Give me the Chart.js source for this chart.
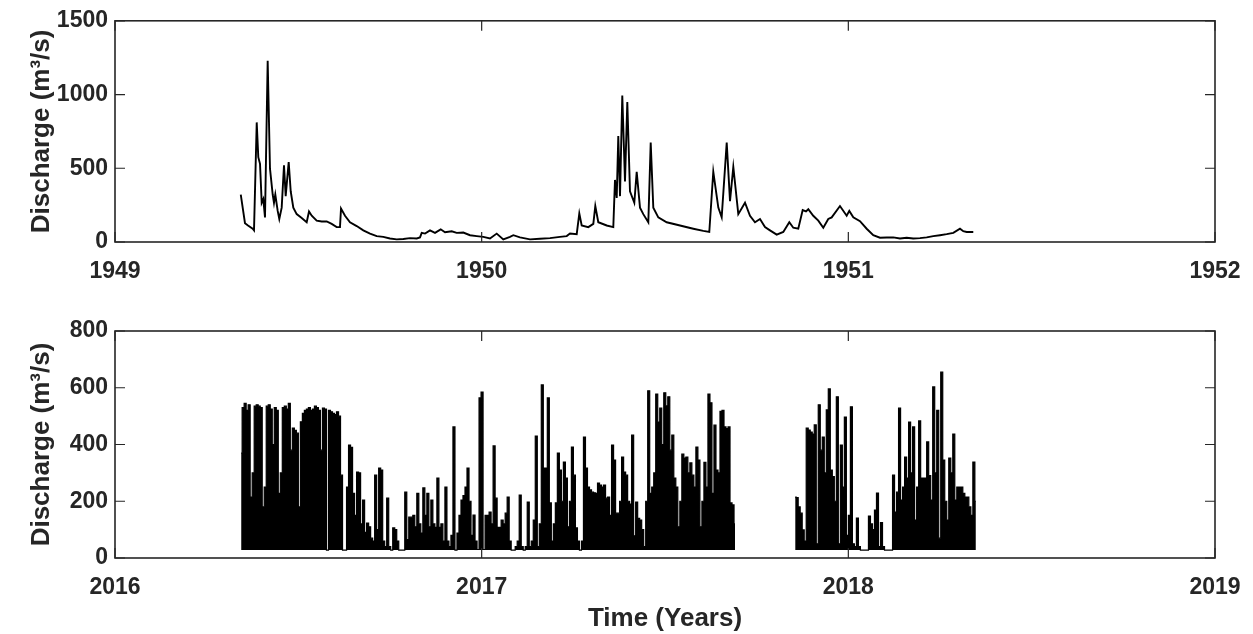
<!DOCTYPE html>
<html><head><meta charset="utf-8">
<script src="https://cdn.jsdelivr.net/npm/chart.js@4.4.0/dist/chart.umd.min.js"></script>
<style>
html,body{margin:0;padding:0;background:#fff;}
#wrap{position:relative;width:1253px;height:634px;overflow:hidden;}
canvas{position:absolute;left:0;}
</style></head><body>
<div id="wrap">
<canvas id="topChart" width="1253" height="300" style="top:0;width:1253px;height:300px"></canvas>
<canvas id="botChart" width="1253" height="334" style="top:300px;width:1253px;height:334px"></canvas>
</div>
<script>
// ---------- Upper panel (1949-1952) ----------
const upperYears = [
1949.343,1949.3545,1949.3627,1949.3755,1949.3791,1949.3865,1949.3908,1949.3955,1949.4001,1949.4044,
1949.4091,1949.4164,1949.4227,1949.4301,1949.4336,1949.4372,1949.4437,1949.4481,1949.4546,1949.4609,
1949.4655,1949.4737,1949.4792,1949.4863,1949.4955,1949.5092,1949.5228,1949.5291,1949.5365,1949.5501,
1949.5637,1949.5774,1949.5910,1949.6046,1949.6136,1949.6164,1949.6273,1949.6409,1949.6592,1949.6772,
1949.6955,1949.7137,1949.7317,1949.75,1949.7683,1949.7863,1949.8045,1949.8228,1949.8318,1949.8365,
1949.8455,1949.8591,1949.8727,1949.8883,1949.9,1949.9183,1949.9319,1949.9499,1949.9682,1949.9865,
1950.0044,1950.0227,1950.041,1950.059,1950.0773,1950.0863,1950.1045,1950.1318,1950.1591,1950.1864,
1950.2136,1950.2319,1950.2409,1950.2592,1950.2663,1950.2728,1950.2908,1950.3045,1950.3099,1950.3181,
1950.341,1950.359,1950.3636,1950.3683,1950.3726,1950.3773,1950.3835,1950.3909,1950.3972,1950.4045,
1950.4163,1950.4228,1950.4318,1950.4408,1950.4545,1950.461,1950.4681,1950.4817,1950.5046,1950.5409,
1950.5772,1950.6045,1950.6208,1950.6317,1950.6454,1950.6546,1950.6683,1950.6773,1950.6863,1950.6999,
1950.7182,1950.7318,1950.7454,1950.7591,1950.7727,1950.7863,1950.8046,1950.8226,1950.839,1950.8499,
1950.8635,1950.8755,1950.8845,1950.8908,1950.9044,1950.9181,1950.9317,1950.9453,1950.9546,1950.9772,
1950.9955,1951.0026,1951.0135,1951.0318,1951.05,1951.068,1951.0863,1951.1046,1951.1226,1951.1409,
1951.1591,1951.1771,1951.1954,1951.2137,1951.2317,1951.25,1951.2683,1951.2863,1951.3045,1951.3135,
1951.3228,1951.3408];
const upperFlow = [
322,128,112,90,79,811,575,530,266,291,
167,1229,497,322,266,322,211,156,233,520,
311,542,344,233,189,163,134,207,178,145,
139,139,123,101,101,227,178,134,108,79,
57,40,35,24,18,20,26,24,31,62,
57,79,62,86,66,73,62,64,46,40,
35,24,57,18,35,46,31,18,22,26,
35,40,57,53,194,112,101,123,244,134,
112,101,421,299,718,311,993,410,949,344,
266,476,233,189,134,674,233,167,134,112,
90,75,68,476,233,167,674,277,509,189,
266,178,134,156,101,79,50,68,134,97,
90,216,207,222,178,145,97,156,167,244,
178,211,167,141,90,46,29,31,31,24,
29,24,26,31,40,46,53,62,90,73,
68,68];
const upperXTicks = [1949, 1952];
const upperYTicks = [0, 1500, 500];

// ---------- Lower panel (2016-2019), sampled every 2 days ----------
const lowerStepDays = 2;
const lowerStartA = 2016.344;
const lowerFlowA = [
370,530,545,520,540,215,300,535,540,535,
530,180,250,535,540,525,400,530,520,228,
300,530,535,525,545,380,458,450,440,180,
480,510,520,525,530,520,525,535,530,520,
380,528,525,28,520,515,510,505,515,500,
292,28,28,250,398,390,228,150,303,300,
120,204,90,123,110,70,60,292,100,317,
310,60,40,211,40,28,106,100,60,28,
28,28,232,65,144,144,150,110,228,120,
88,247,150,228,110,204,120,108,282,108,
120,60,250,60,40,80,462,28,88,150,
204,220,250,317,200,80,151,60,30,564,
585,30,150,150,162,120,395,211,108,108,
134,120,158,215,60,28,28,40,60,222,
40,28,40,197,40,60,134,430,40,120,
610,317,317,564,194,60,120,194,370,310,
200,338,282,110,200,391,292,106,60,28,
60,426,317,250,240,232,230,228,264,257,
250,257,211,215,150,398,345,158,158,200,
356,303,292,200,190,433,78,197,140,134,
100,40,200,589,228,250,300,578,479,528,
400,582,536,568,380,433,282,250,110,200,
366,352,356,300,335,292,250,391,345,110,
200,337,250,578,547,228,468,310,300,517,
520,462,456,462,194,187,120];
const lowerStartB = 2017.855;
const lowerFlowB = [
215,213,180,158,99,60,458,451,444,437,
469,50,540,380,426,300,522,596,310,287,
200,568,50,398,250,497,80,150,533,50,
40,141,40,28,28,28,28,148,120,100,
169,229,40,125,40,28,28,28,28,292,
162,232,528,204,250,356,282,479,300,462,
134,250,483,282,282,282,409,290,204,603,
300,520,70,655,345,200,134,352,300,437,
204,250,250,250,228,215,215,180,150,338,
200];
const lowerBaseFlow = 28;
const lowerXTicks = [2016, 2019];
const lowerYTicks = [0, 800, 200];

const yTitle = 'Discharge (m\u00B3/s)';
const xTitle = 'Time (Years)';

// ---------- helpers ----------
const FONT = "'Liberation Sans', Arial, Helvetica, sans-serif";
const TXT = '#262626';

const boxPlugin = {
  id: 'box',
  afterDatasetsDraw(chart) {
    const {ctx, chartArea: a, scales: {x, y}} = chart;
    ctx.save();
    ctx.strokeStyle = '#262626';
    ctx.lineWidth = 1.6;
    ctx.strokeRect(a.left, a.top, a.right - a.left, a.bottom - a.top);
    const L = 10;
    ctx.lineWidth = 1.2;
    ctx.beginPath();
    x.ticks.forEach(t => {
      const p = x.getPixelForValue(t.value);
      ctx.moveTo(p, a.bottom); ctx.lineTo(p, a.bottom - L);
      ctx.moveTo(p, a.top); ctx.lineTo(p, a.top + L);
    });
    y.ticks.forEach(t => {
      const p = y.getPixelForValue(t.value);
      ctx.moveTo(a.left, p); ctx.lineTo(a.left + L, p);
      ctx.moveTo(a.right, p); ctx.lineTo(a.right - L, p);
    });
    ctx.stroke();
    ctx.restore();
  }
};

function makeOptions(c) {
  return {
    responsive: false, animation: false, devicePixelRatio: 1,
    layout: {padding: {top: c.padTop, right: 38, left: 0, bottom: 0}},
    plugins: {legend: {display: false}, tooltip: {enabled: false}},
    scales: {
      x: {
        type: 'linear', min: c.xTicks[0], max: c.xTicks[1],
        grid: {display: false, tickLength: 8}, border: {display: false},
        ticks: {stepSize: 1, autoSkip: false, maxRotation: 0, padding: 8,
                color: TXT, font: {family: FONT, size: 23, weight: 'bold'},
                callback: v => String(v)},
        title: {display: !!c.xTitle, text: c.xTitle || '', color: TXT,
                font: {family: FONT, size: 26, weight: 'bold'}, padding: {top: 0, bottom: 0}},
        afterFit: s => { s.height = c.xHeight; }
      },
      y: {
        type: 'linear', min: c.yTicks[0], max: c.yTicks[1],
        grid: {display: false, drawTicks: false, tickLength: 0}, border: {display: false},
        ticks: {stepSize: c.yTicks[2], padding: 7, color: TXT,
                font: {family: FONT, size: 23, weight: 'bold'},
                callback: v => String(v)},
        title: {display: true, text: yTitle, color: TXT,
                font: {family: FONT, size: 26, weight: 'bold'}, padding: {top: 26, bottom: 0}},
        afterFit: s => { s.width = 115; }
      }
    }
  };
}

// ---------- upper chart ----------
new Chart(document.getElementById('topChart'), {
  type: 'line',
  data: {datasets: [{
    data: upperYears.map((t, i) => ({x: t, y: upperFlow[i]})),
    borderColor: '#000', borderWidth: 1.9, pointRadius: 0, tension: 0, fill: false
  }]},
  options: makeOptions({padTop: 15, xHeight: 58, xTicks: upperXTicks, yTicks: upperYTicks}),
  plugins: [boxPlugin]
});

// ---------- lower chart ----------
const toSeries = (start, vals) => vals.map((v, i) => ({x: start + i * lowerStepDays / 365.25, y: v}));
const lowerStyle = {
  borderColor: '#000', backgroundColor: '#000', borderWidth: 1.2, pointRadius: 0,
  tension: 0, stepped: 'middle', fill: {value: lowerBaseFlow}
};
new Chart(document.getElementById('botChart'), {
  type: 'line',
  data: {datasets: [
    Object.assign({data: toSeries(lowerStartA, lowerFlowA)}, lowerStyle),
    Object.assign({data: toSeries(lowerStartB, lowerFlowB)}, lowerStyle)
  ]},
  options: makeOptions({padTop: 31, xHeight: 76, xTicks: lowerXTicks, yTicks: lowerYTicks, xTitle: xTitle}),
  plugins: [boxPlugin]
});
</script>
</body></html>
